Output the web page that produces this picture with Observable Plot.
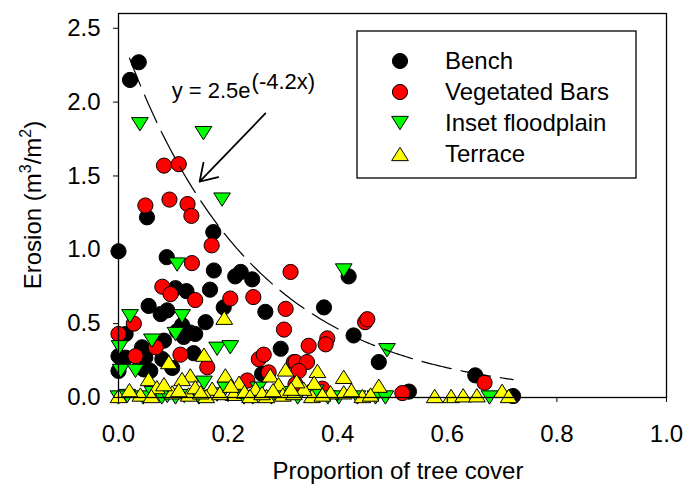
<!DOCTYPE html>
<html><head><meta charset="utf-8">
<script src="https://cdn.jsdelivr.net/npm/d3@7"></script>
<script src="https://cdn.jsdelivr.net/npm/@observablehq/plot@0.6"></script>
<style>body{margin:0;background:#fff} svg{display:block}</style>
</head><body><div id="chart"></div>
<script>
// ---- data (x = proportion of tree cover, y = erosion m3/m2) ----
const bench = [
[0.000,0.99],[0.021,2.15],[0.037,2.27],[0.052,1.22],[0.173,1.12],[0.088,0.95],[0.174,0.86],[0.213,0.82],
[0.223,0.85],[0.244,0.80],[0.104,0.74],[0.124,0.72],[0.167,0.73],[0.055,0.62],[0.077,0.565],[0.192,0.61],
[0.159,0.51],[0.268,0.58],[0.375,0.61],[0.429,0.42],[0.475,0.24],[0.530,0.04],[0.651,0.15],[0.720,0.01],
[0.420,0.82],[0.296,0.33],[0.116,0.49],[0.107,0.45],[0.119,0.41],[0.083,0.385],[0.013,0.43],[0.000,0.28],
[0.013,0.27],[0.043,0.34],[0.049,0.27],[0.046,0.19],[0.000,0.18],[0.080,0.26],[0.098,0.20],[0.137,0.30],
[0.131,0.44],[0.262,0.16],[0.089,0.59],[0.140,0.43],[0.058,0.18]
];
const vegetatedBars = [
[0.083,1.57],[0.110,1.58],[0.093,1.34],[0.049,1.30],[0.126,1.31],[0.133,1.23],[0.170,1.03],[0.134,0.91],
[0.314,0.85],[0.080,0.75],[0.095,0.70],[0.140,0.66],[0.204,0.67],[0.246,0.68],[0.305,0.60],[0.302,0.46],
[0.028,0.50],[0.000,0.43],[0.031,0.28],[0.068,0.34],[0.113,0.29],[0.162,0.205],[0.256,0.26],[0.265,0.29],
[0.274,0.17],[0.320,0.24],[0.235,0.115],[0.450,0.51],[0.454,0.53],[0.381,0.40],[0.378,0.36],[0.347,0.35],
[0.323,0.24],[0.344,0.24],[0.329,0.18],[0.323,0.09],[0.372,0.06],[0.518,0.03],[0.668,0.10]
];
const insetFloodplain = [
[0.039,1.85],[0.155,1.79],[0.189,1.34],[0.107,0.90],[0.411,0.86],[0.021,0.55],[0.116,0.55],[0.002,0.34],
[0.061,0.385],[0.104,0.43],[0.004,0.18],[0.031,0.18],[0.180,0.33],[0.204,0.34],[0.490,0.32],[0.156,0.10],
[0.016,0.01],[0.000,0.00],[0.045,0.00],[0.079,0.00],[0.089,0.01],[0.104,0.00],[0.120,0.01],[0.147,0.00],
[0.180,0.02],[0.229,0.00],[0.245,0.00],[0.279,0.00],[0.300,0.03],[0.327,0.00],[0.382,0.00],[0.402,0.00],
[0.436,0.00],[0.469,0.00],[0.487,0.00],[0.677,0.00],[0.255,0.06],[0.360,0.04],[0.195,0.06],[0.062,0.03]
];
const terrace = [
[0.092,0.24],[0.055,0.125],[0.131,0.15],[0.116,0.125],[0.070,0.07],[0.000,0.01],[0.040,0.02],[0.098,0.035],
[0.128,0.02],[0.083,0.09],[0.156,0.29],[0.193,0.54],[0.195,0.15],[0.220,0.10],[0.171,0.06],[0.210,0.025],
[0.250,0.06],[0.277,0.15],[0.305,0.19],[0.292,0.09],[0.270,0.01],[0.300,0.02],[0.363,0.18],[0.411,0.14],
[0.357,0.10],[0.411,0.035],[0.387,0.035],[0.475,0.08],[0.445,0.01],[0.353,0.01],[0.577,0.01],[0.607,0.01],
[0.629,0.015],[0.654,0.015],[0.700,0.045],[0.712,0.01],[0.020,0.05],[0.060,0.01],[0.110,0.05],[0.140,0.07],
[0.160,0.01],[0.185,0.03],[0.230,0.04],[0.240,0.01],[0.262,0.03],[0.282,0.05],[0.320,0.03],[0.338,0.06],
[0.372,0.02],[0.425,0.05],[0.460,0.02],[0.150,0.035],[0.205,0.08],[0.325,0.11],[0.315,0.06]
];
const seriesNames = ["Bench", "Vegetated Bars", "Inset floodplain", "Terrace"];
const xTicks = [0, 0.2, 0.4, 0.6, 0.8, 1.0];
const yTicks = [0, 0.5, 1.0, 1.5, 2.0, 2.5];
const xTitle = "Proportion of tree cover";
// fitted model shown on the chart: y = 2.5 e^(-4.2x)
const fitA = 2.5, fitB = -4.2, fitFrom = 0.02, fitTo = 0.72;
const annotationText = ["y = 2.5e", "(-4.2x)"];
const annotationAt = [0.098, 2.027];
const arrowSpec = [{x1: 0.268, y1: 1.923, x2: 0.148, y2: 1.462}];

// ---- rendering ----
const FONT = "'Liberation Sans', Arial, Helvetica, sans-serif";
const R = 7.6;
function tri(dir) {
  return {draw(ctx, size) {
    const r = Math.sqrt(size / Math.PI), w = r * 1.1, h = r * 1.75;
    ctx.moveTo(0, dir * h / 2);
    ctx.lineTo(w, -dir * h / 2);
    ctx.lineTo(-w, -dir * h / 2);
    ctx.closePath();
  }};
}
const triUp = tri(-1), triDown = tri(1);
const fitLine = d3.range(fitFrom, fitTo + 1e-9, 0.005).map(x => ({x, y: fitA * Math.exp(fitB * x)}));
const px = d => d[0], py = d => d[1];

const chart = Plot.plot({
  width: 684, height: 488,
  marginLeft: 118, marginRight: 18, marginTop: 13, marginBottom: 91,
  style: {fontFamily: FONT, fontSize: "24px", color: "black", background: "white"},
  x: {domain: [0, 1]},
  y: {domain: [0, 2.6]},
  marks: [
    Plot.dot(bench, {x: px, y: py, r: R, fill: "black", stroke: "black", strokeWidth: 1}),
    Plot.dot(vegetatedBars, {x: px, y: py, r: R, fill: "#ff0000", stroke: "black", strokeWidth: 1}),
    Plot.dot(insetFloodplain, {x: px, y: py, r: R, symbol: triDown, fill: "#00ff00", stroke: "black", strokeWidth: 1}),
    Plot.dot(terrace, {x: px, y: py, r: R, symbol: triUp, fill: "#ffff00", stroke: "black", strokeWidth: 1}),
    Plot.line(fitLine, {x: "x", y: "y", stroke: "black", strokeWidth: 1.2, strokeDasharray: "30,10"}),
    Plot.arrow(arrowSpec, {x1: "x1", y1: "y1", x2: "x2", y2: "y2", stroke: "black", strokeWidth: 1.8, headLength: 16, headAngle: 65}),
    Plot.frame({stroke: "black", strokeWidth: 1.3}),
    Plot.axisX({ticks: xTicks, tickFormat: d3.format(".1f"), tickSize: 5, tickPadding: 22, fontSize: 24, label: null, stroke: "black"}),
    Plot.axisY({ticks: yTicks, tickFormat: d3.format(".1f"), tickSize: 5, tickPadding: 13, fontSize: 24, label: null, stroke: "black"})
  ]
});
document.getElementById("chart").appendChild(chart);

const svg = d3.select(chart);
const sx = chart.scale("x"), sy = chart.scale("y");

// annotation with superscript
const ann = svg.append("text")
  .attr("x", sx.apply(annotationAt[0])).attr("y", sy.apply(annotationAt[1]))
  .attr("text-anchor", "start")
  .attr("font-family", FONT).attr("font-size", 22).attr("fill", "black");
ann.append("tspan").text(annotationText[0]);
ann.append("tspan").attr("dy", -9).attr("dx", 1).text(annotationText[1]);

// axis titles
svg.append("text")
  .attr("x", 398).attr("y", 479).attr("text-anchor", "middle")
  .attr("font-family", FONT).attr("font-size", 24).attr("fill", "black")
  .text(xTitle);
const yt = svg.append("text")
  .attr("transform", "translate(41,205) rotate(-90)").attr("text-anchor", "middle")
  .attr("font-family", FONT).attr("font-size", 24).attr("fill", "black");
yt.append("tspan").text("Erosion (m");
yt.append("tspan").attr("dy", -10).attr("font-size", 16).text("3");
yt.append("tspan").attr("dy", 10).text("/m");
yt.append("tspan").attr("dy", -10).attr("font-size", 16).text("2");
yt.append("tspan").attr("dy", 10).text(")");

// legend
const lg = svg.append("g");
lg.append("rect").attr("x", 357).attr("y", 31).attr("width", 279).attr("height", 147)
  .attr("fill", "white").attr("stroke", "black").attr("stroke-width", 1.3);
const legendStyles = [
  {type: d3.symbolCircle, fill: "black"},
  {type: d3.symbolCircle, fill: "#ff0000"},
  {type: triDown, fill: "#00ff00"},
  {type: triUp, fill: "#ffff00"}
];
seriesNames.forEach((name, i) => {
  const cy = 61 + i * 31;
  lg.append("path").attr("transform", `translate(400,${cy})`)
    .attr("d", d3.symbol(legendStyles[i].type, Math.PI * R * R)())
    .attr("fill", legendStyles[i].fill).attr("stroke", "black").attr("stroke-width", 1);
  lg.append("text").attr("x", 445).attr("y", cy + 8).attr("text-anchor", "start")
    .attr("font-family", FONT).attr("font-size", 24).attr("fill", "black").text(name);
});
</script>
</body></html>
